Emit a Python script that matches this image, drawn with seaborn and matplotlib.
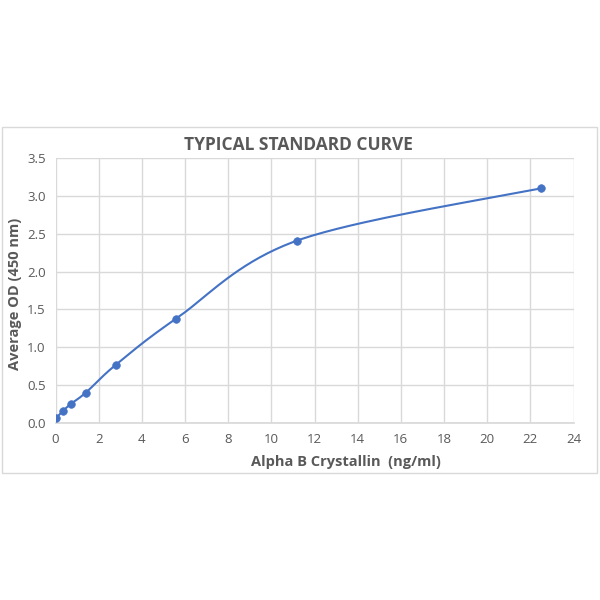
import numpy as np
import pandas as pd
import matplotlib
matplotlib.use("Agg")
import matplotlib.pyplot as plt
import seaborn as sns
from matplotlib.patches import Rectangle

concentration = [0, 0.35, 0.7, 1.4, 2.8, 5.6, 11.2, 22.5]
average_od = [0.06, 0.16, 0.25, 0.40, 0.77, 1.38, 2.41, 3.10]
x_ticks = list(range(0, 25, 2))
y_ticks = [0.0, 0.5, 1.0, 1.5, 2.0, 2.5, 3.0, 3.5]

sns.set_theme(style="white")
plt.rcParams['font.family'] = ['Open Sans', 'DejaVu Sans']

def smooth(xs, ys, n=40):
    # Excel-like smoothed line: cubic Bezier with Catmull-Rom control points
    xs = np.asarray(xs, float); ys = np.asarray(ys, float)
    px = np.concatenate([[xs[0]], xs, [xs[-1]]])
    py = np.concatenate([[ys[0]], ys, [ys[-1]]])
    ox, oy = [], []
    t = np.linspace(0, 1, n)
    for i in range(1, len(px) - 2):
        p0 = np.array([px[i], py[i]]); p3 = np.array([px[i+1], py[i+1]])
        c1 = p0 + (np.array([px[i+1], py[i+1]]) - np.array([px[i-1], py[i-1]])) / 6
        c2 = p3 - (np.array([px[i+2], py[i+2]]) - np.array([px[i], py[i]])) / 6
        b = ((1-t)**3)[:, None]*p0 + (3*(1-t)**2*t)[:, None]*c1 + (3*(1-t)*t**2)[:, None]*c2 + (t**3)[:, None]*p3
        ox.extend(b[:, 0]); oy.extend(b[:, 1])
    return np.array(ox), np.array(oy)

sx, sy = smooth(concentration, average_od)
curve = pd.DataFrame({"x": sx, "y": sy})
pts = pd.DataFrame({"x": concentration, "y": average_od})

fig = plt.figure(figsize=(6, 6), dpi=100)
fig.patch.set_facecolor("white")
fig.patches.append(Rectangle((2/600, 1-473/600), 595/600, 346/600, transform=fig.transFigure,
                             fill=False, edgecolor="#d9d9d9", linewidth=1))
ax = fig.add_axes([55.5/600, 1-423/600, 518/600, 265/600])

blue = "#4472c4"
sns.lineplot(data=curve, x="x", y="y", ax=ax, color=blue, linewidth=1.5, sort=False, estimator=None)
sns.scatterplot(data=pts, x="x", y="y", ax=ax, color=blue, s=30, edgecolor=blue, linewidth=0.5, zorder=3)

ax.set_xlim(0, 24)
ax.set_ylim(0, 3.5)
ax.set_xticks(x_ticks)
ax.set_yticks(y_ticks)
ax.set_xticklabels([str(v) for v in x_ticks])
ax.set_yticklabels([f"{v:.1f}" for v in y_ticks])
ax.grid(True, color="#d9d9d9", linewidth=1)
ax.set_axisbelow(True)
for s in ["top", "right", "left"]:
    ax.spines[s].set_visible(False)
ax.spines["bottom"].set_color("#d9d9d9")
ax.tick_params(axis="both", colors="#595959", labelsize=9.5, length=4, width=1, color="#d9d9d9", pad=3)
ax.set_xlabel("")
ax.set_ylabel("")
fig.text(346/600, 1-462/600, "Alpha B Crystallin  (ng/ml)", ha="center", va="center",
         fontsize=10.5, fontweight="bold", color="#595959")
fig.text(15/600, 1-294/600, "Average OD (450 nm)", ha="center", va="center", rotation=90,
         fontsize=10.5, fontweight="bold", color="#595959")
fig.text(298.5/600, 1-145/600, "TYPICAL STANDARD CURVE", ha="center", va="center",
         fontsize=12.5, fontweight="bold", color="#595959")

fig.savefig("out.png", dpi=100)
